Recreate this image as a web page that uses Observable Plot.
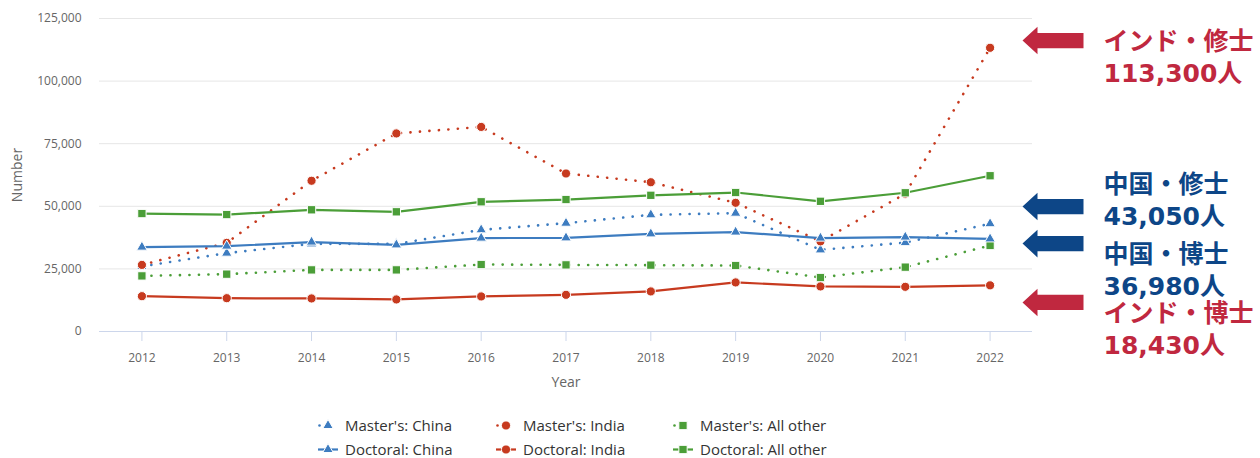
<!DOCTYPE html>
<html>
<head>
<meta charset="utf-8">
<script src="https://cdn.jsdelivr.net/npm/d3@7"></script>
<script src="https://cdn.jsdelivr.net/npm/@observablehq/plot@0.6"></script>
<style>
  html, body { margin: 0; padding: 0; background: #fff; }
  #chart svg { display: block; }
</style>
</head>
<body>
<div id="chart"></div>
<div id="legend"></div>
<script>
// ---- data ----
const years = [2012, 2013, 2014, 2015, 2016, 2017, 2018, 2019, 2020, 2021, 2022];
const mastersChina  = [26000, 31300, 35000, 35000, 40600, 43250, 46600, 47250, 32600, 35500, 43050];
const mastersIndia  = [26600, 35400, 60200, 79100, 81700, 63100, 59600, 51400, 36000, 55000, 113300];
const mastersOther  = [22200, 22900, 24600, 24600, 26750, 26600, 26500, 26350, 21550, 25700, 34350];
const doctoralChina = [33700, 34100, 35700, 34600, 37300, 37400, 39000, 39700, 37300, 37700, 36980];
const doctoralIndia = [14100, 13300, 13200, 12800, 14000, 14650, 16000, 19600, 18000, 17850, 18430];
const doctoralOther = [47100, 46700, 48600, 47800, 51800, 52700, 54400, 55500, 52000, 55400, 62200];
const yTicks = [0, 25000, 50000, 75000, 100000, 125000];

const seriesNames = ["Master's: China", "Master's: India", "Master's: All other",
                     "Doctoral: China", "Doctoral: India", "Doctoral: All other"];
const seriesValues = [mastersChina, mastersIndia, mastersOther, doctoralChina, doctoralIndia, doctoralOther];

// annotation texts (right side)
const annLabels = ["インド・修士\n113,300人", "中国・修士\n43,050人", "中国・博士\n36,980人", "インド・博士\n18,430人"];
const annKinds  = ["india", "china", "china", "india"];
// vertical anchors of annotation text / arrows, expressed in chart units
const annTextAt  = [110000, 52900, 24960, 1600];
const annArrowAt = [116200, 49900, 35100, 11600];

// ---- styles ----
const BLUE = "#3d7cc0", RED = "#c73a1f", GREEN = "#4b9e38";
const styles = [
  {color: BLUE,  symbol: "triangle", dotted: true},
  {color: RED,   symbol: "circle",   dotted: true},
  {color: GREEN, symbol: "square",   dotted: true},
  {color: BLUE,  symbol: "triangle", dotted: false},
  {color: RED,   symbol: "circle",   dotted: false},
  {color: GREEN, symbol: "square",   dotted: false}
];
const symR = {triangle: 3.9, circle: 4.6, square: 4.7};
const annColor = {india: "#c0283f", china: "#0d4687"};

const rows = seriesValues.map((vals, i) => years.map((yr, j) => ({series: seriesNames[i], year: yr, value: vals[j]})));
const ann = annLabels.map((t, i) => ({label: t, color: annColor[annKinds[i]], ty: annTextAt[i], ay: annArrowAt[i]}));

// block arrow symbol pointing left (size ignored)
const arrowSymbol = {
  draw(ctx) {
    const L = -30.5, H = -15.5, R = 30.5, hh = 13.8, sh = 7.6;
    ctx.moveTo(L, 0);
    ctx.lineTo(H, -hh);
    ctx.lineTo(H, -sh);
    ctx.lineTo(R, -sh);
    ctx.lineTo(R, sh);
    ctx.lineTo(H, sh);
    ctx.lineTo(H, hh);
    ctx.closePath();
  }
};

const FONT = "'Open Sans', 'Noto Sans', sans-serif";
const marks = [
  Plot.gridY(yTicks.filter(d => d > 0), {stroke: "#e6e6e6", strokeOpacity: 1, strokeWidth: 1}),
  Plot.ruleY([0], {stroke: "#ccd6eb", strokeWidth: 1}),
  Plot.axisX(years, {tickSize: 10, tickPadding: 12, stroke: "#ccd6eb", fill: "#666", fontSize: 12, tickFormat: d => String(d), label: null}),
  Plot.axisY(yTicks, {tickSize: 0, tickPadding: 18, fill: "#666", fontSize: 12, tickFormat: d3.format(","), label: null}),
  Plot.text(["Number"], {frameAnchor: "left", dx: -82, rotate: -90, fill: "#666", fontSize: 14, textAnchor: "middle"}),
  Plot.text(["Year"], {frameAnchor: "bottom", dy: 55, fill: "#666", fontSize: 14, textAnchor: "middle"})
];
rows.forEach((data, i) => {
  const s = styles[i];
  marks.push(Plot.line(data, {
    x: "year", y: "value", stroke: s.color, strokeWidth: s.dotted ? 2.6 : 2.2,
    strokeDasharray: s.dotted ? "0.1,9.4" : null, strokeLinecap: s.dotted ? "round" : "butt"
  }));
  marks.push(Plot.dot(data, {
    x: "year", y: "value", symbol: s.symbol, r: symR[s.symbol], fill: s.color, stroke: "white", strokeWidth: 1
  }));
});
marks.push(Plot.dot(ann, {y: "ay", frameAnchor: "right", dx: 20.5, symbol: arrowSymbol, r: 5, fill: d => d.color, stroke: "none"}));
marks.push(Plot.text(ann, {
  y: "ty", text: "label", frameAnchor: "right", dx: 71, textAnchor: "start", lineAnchor: "middle",
  lineHeight: 1.27, fontSize: 25, fontWeight: 700, fill: d => d.color,
  fontFamily: "'DejaVu Sans', 'Noto Sans CJK JP', sans-serif"
}));

const chart = Plot.plot({
  width: 1260, height: 400,
  marginLeft: 99, marginRight: 228, marginTop: 18, marginBottom: 69,
  style: {fontFamily: FONT, fontSize: "12px", background: "white", overflow: "visible"},
  x: {domain: [2011.5, 2022.5], axis: null},
  y: {domain: [0, 125000], axis: null},
  color: {type: "identity"},
  marks
});
document.getElementById("chart").appendChild(chart);

// ---- legend (below the plot) ----
const legendCols = [{x0: 318, x1: 338, tx: 345}, {x0: 496, x1: 516, tx: 523}, {x0: 673, x1: 693, tx: 700}];
const legendRowsY = [25.5, 49.5];
const lsvg = d3.create("svg").attr("width", 1260).attr("height", 58).style("display", "block");
seriesNames.forEach((name, i) => {
  const s = styles[i];
  const col = legendCols[i % 3], y = legendRowsY[Math.floor(i / 3)];
  const g = lsvg.append("g");
  const cx = (col.x0 + col.x1) / 2;
  if (s.dotted) {
    g.append("circle").attr("cx", col.x0 + 1.5).attr("cy", y).attr("r", 1.3).attr("fill", s.color);
  } else {
    g.append("line").attr("x1", col.x0).attr("x2", col.x1).attr("y1", y).attr("y2", y)
      .attr("stroke", s.color).attr("stroke-width", 2.2);
  }
  const sym = s.symbol === "triangle" ? d3.symbolTriangle : s.symbol === "circle" ? d3.symbolCircle : d3.symbolSquare;
  const rr = symR[s.symbol];
  g.append("path").attr("d", d3.symbol(sym, Math.PI * rr * rr)()).attr("transform", `translate(${cx},${y})`)
    .attr("fill", s.color).attr("stroke", "white").attr("stroke-width", 1);
  lsvg.append("text").attr("x", col.tx).attr("y", y).attr("dy", "0.35em")
    .attr("font-family", FONT).attr("font-size", 15).attr("font-weight", 400).attr("fill", "#333")
    .text(name);
});
document.getElementById("legend").appendChild(lsvg.node());
</script>
</body>
</html>
